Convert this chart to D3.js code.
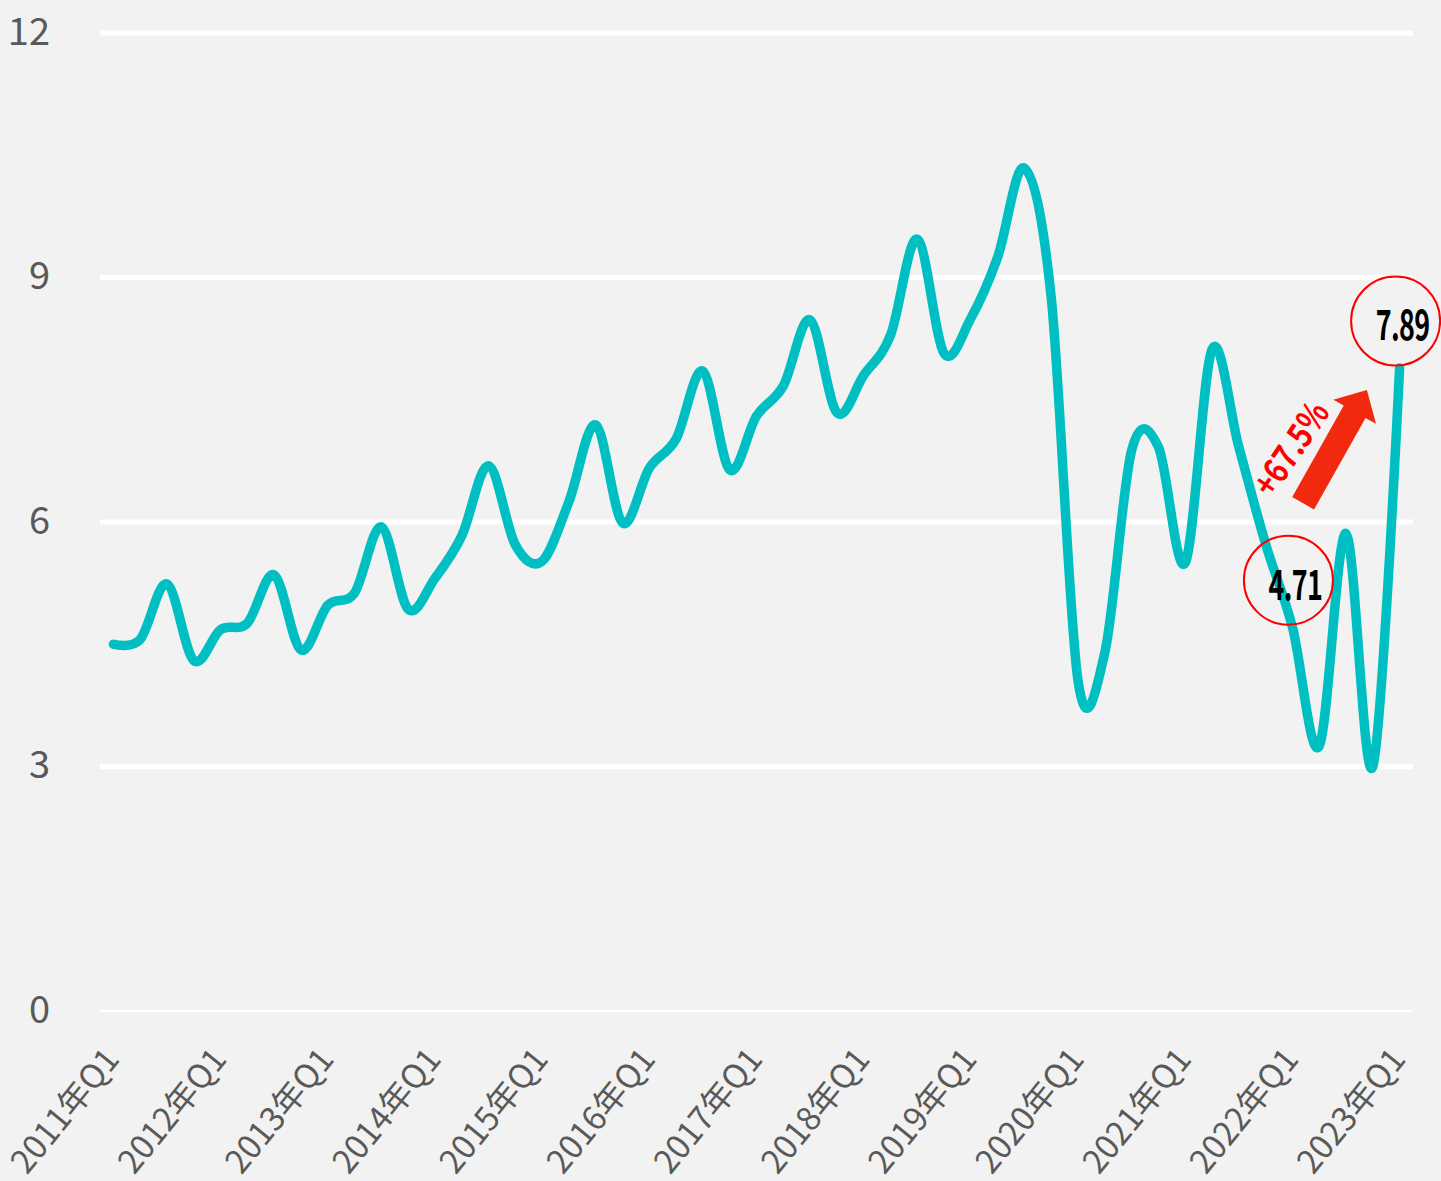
<!DOCTYPE html>
<html>
<head>
<meta charset="utf-8">
<script src="https://cdn.jsdelivr.net/npm/d3@7"></script>
<style>
  html, body { margin: 0; padding: 0; background: #f2f2f2; }
  svg { display: block; }
  text { font-family: "Noto Sans CJK SC", "Noto Sans", sans-serif; }
</style>
</head>
<body>
<div id="chart-area"></div>
<script>
// Quarters 2011Q1 .. 2023Q1
const years = d3.range(2011, 2024);
const quarters = ["Q1", "Q2", "Q3", "Q4"];
const categories = [];
years.forEach(y => quarters.forEach(q => categories.push(y + "年" + q)));
categories.splice(49);

// Values
const values = [
  4.50, 4.56, 5.24, 4.30,
  4.68, 4.76, 5.35, 4.43,
  4.98, 5.13, 5.94, 4.93,
  5.31, 5.83, 6.69, 5.72,
  5.52, 6.25, 7.19, 5.99,
  6.66, 7.02, 7.85, 6.64,
  7.30, 7.67, 8.48, 7.34,
  7.80, 8.29, 9.47, 8.07,
  8.50, 9.25, 10.34, 8.75,
  4.05, 4.40, 6.88, 6.92,
  5.50, 8.12, 6.92, 5.73,
  4.71, 3.25, 5.86, 3.00,
  7.89
];

const yTicks = [0, 3, 6, 9, 12];
const labelledPoints = [44, 48];          // 4.71 and 7.89
const changeLabel = "+67.5%";

const W = 1441, H = 1181;
const plot = { left: 100, right: 1413, top: 33, bottom: 1011 };

const svg = d3.select("#chart-area")
  .append("svg")
  .attr("width", W)
  .attr("height", H);

svg.append("rect").attr("width", W).attr("height", H).attr("fill", "#f2f2f2");

// Scales
const x = d3.scalePoint()
  .domain(d3.range(categories.length))
  .range([plot.left, plot.right])
  .padding(0.5);
const step = x.step();
const xAt = i => x(0) + i * step;   // fractional positions for annotations

const y = d3.scaleLinear().domain([0, 12]).range([plot.bottom, plot.top]);

// Gridlines
svg.append("g")
  .selectAll("line")
  .data(yTicks)
  .join("line")
  .attr("x1", plot.left)
  .attr("x2", plot.right)
  .attr("y1", d => y(d))
  .attr("y2", d => y(d))
  .attr("stroke", "#ffffff")
  .attr("stroke-width", d => d === 0 ? 2 : 5);

// Y axis labels
const yAxis = d3.axisLeft(y).tickValues(yTicks).tickSize(0).tickPadding(0);
svg.append("g")
  .attr("class", "y-axis")
  .attr("transform", "translate(50,0)")
  .call(yAxis)
  .call(g => g.select(".domain").remove())
  .selectAll("text")
  .attr("font-size", 38)
  .attr("fill", "#595959")
  .attr("font-family", "'Noto Sans CJK SC', sans-serif")
  .attr("dy", "0.3em");

// X axis labels (yearly)
const xAxis = d3.axisBottom(x)
  .tickValues(d3.range(0, categories.length, 4))
  .tickFormat(i => categories[i])
  .tickSize(0);
svg.append("g")
  .attr("class", "x-axis")
  .attr("transform", "translate(0," + plot.bottom + ")")
  .call(xAxis)
  .call(g => g.select(".domain").remove())
  .selectAll("text")
  .attr("font-size", 33)
  .attr("fill", "#595959")
  .attr("font-family", "'Noto Sans CJK SC', sans-serif")
  .attr("text-anchor", "end")
  .attr("y", 0)
  .attr("dy", 0)
  .attr("transform", "translate(7,49) rotate(-51)");

// Line
const line = d3.line()
  .x((d, i) => x(i))
  .y(d => y(d))
  .curve(d3.curveCardinal.tension(0));

svg.append("path")
  .datum(values)
  .attr("d", line)
  .attr("fill", "none")
  .attr("stroke", "#00bfc2")
  .attr("stroke-width", 9.5)
  .attr("stroke-linecap", "round")
  .attr("stroke-linejoin", "round");

// Circled value labels
const lab = svg.append("g").selectAll("g")
  .data(labelledPoints)
  .join("g")
  .attr("transform", i => "translate(" + x(i) + "," + y(values[i]) + ")");

lab.append("circle")
  .attr("cx", -4)
  .attr("cy", -47)
  .attr("r", 44.5)
  .attr("fill", "none")
  .attr("stroke", "#ff0000")
  .attr("stroke-width", 2);

lab.append("text")
  .attr("transform", "translate(3,-27.5) scale(0.64,1)")
  .attr("text-anchor", "middle")
  .attr("font-family", "Roboto, sans-serif")
  .attr("font-weight", 700)
  .attr("font-size", 42)
  .attr("letter-spacing", -1)
  .attr("fill", "#000000")
  .text(i => values[i].toFixed(2));

// Arrow from 4.71 to 7.89
const arrowFrom = [xAt(44.4), y(6.23)];
const arrowTo = [xAt(46.78), y(7.62)];
const dx = arrowTo[0] - arrowFrom[0], dy = arrowTo[1] - arrowFrom[1];
const L = Math.sqrt(dx * dx + dy * dy);
const ang = Math.atan2(dy, dx) * 180 / Math.PI;
const hl = 25, hw = 24.5, sw = 12.5;
svg.append("polygon")
  .attr("points", [[0, -sw], [L - hl, -sw], [L - hl, -hw], [L, 0], [L - hl, hw], [L - hl, sw], [0, sw]].join(" "))
  .attr("transform", "translate(" + arrowFrom + ") rotate(" + ang + ")")
  .attr("fill", "#f0290f");

svg.append("text")
  .attr("transform", "translate(" + xAt(43.86) + "," + y(6.92) + ") rotate(-56) scale(0.82,1)")
  .attr("text-anchor", "middle")
  .attr("dominant-baseline", "central")
  .attr("font-family", "Roboto, sans-serif")
  .attr("font-weight", 700)
  .attr("font-size", 35)
  .attr("fill", "#ff0000")
  .text(changeLabel);
</script>
</body>
</html>
